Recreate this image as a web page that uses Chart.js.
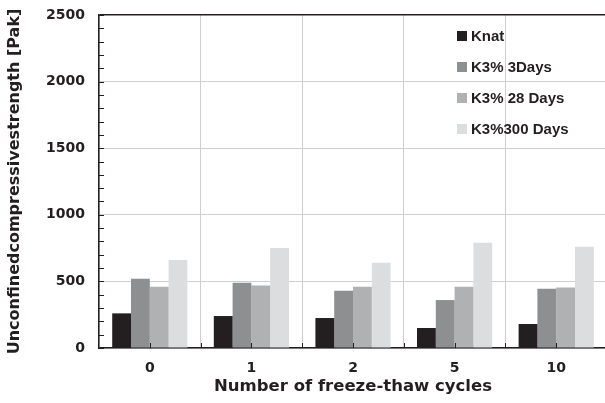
<!DOCTYPE html>
<html>
<head>
<meta charset="utf-8">
<script src="https://cdn.jsdelivr.net/npm/chart.js@4.4.1/dist/chart.umd.min.js"></script>
<style>
  html, body { margin: 0; padding: 0; background: #fff; overflow: hidden; }
  #wrap { position: relative; width: 607px; height: 403px; }
</style>
</head>
<body>
<div id="wrap"><canvas id="barChart"></canvas></div>
<script>
// ciclos de hielo-deshielo (eje X)
const ciclos = ['0', '1', '2', '5', '10'];

// resistencia a compresión no confinada por serie
const knat = [260, 240, 225, 150, 180];
const k3Dias3 = [520, 490, 430, 360, 445];
const k3Dias28 = [460, 470, 460, 460, 455];
const k3Dias300 = [660, 750, 640, 790, 760];

const nombresSeries = ['Knat', 'K3% 3Days', 'K3% 28 Days', 'K3%300 Days'];
const coloresSeries = ['#231f20', '#8e8f91', '#b0b1b3', '#dcdddf'];

const ejeYMax = 2500;
const ejeYPaso = 500;

Chart.defaults.font.family = '"DejaVu Sans", sans-serif';
Chart.defaults.font.weight = 'bold';
Chart.defaults.color = '#231f20';

// marcas menores del eje Y (cada 100) y marcas del eje X hacia dentro
const marcasEjes = {
    id: 'marcasEjes',
    afterDatasetsDraw(chart) {
        const { ctx, chartArea, scales } = chart;
        ctx.save();
        ctx.strokeStyle = '#231f20';
        ctx.lineWidth = 1;
        for (let v = 0; v <= ejeYMax; v += 100) {
            const y = Math.round(scales.y.getPixelForValue(v)) + 0.5;
            ctx.beginPath();
            ctx.moveTo(chartArea.left, y);
            ctx.lineTo(chartArea.left + 5, y);
            ctx.stroke();
        }
        const n = scales.x.ticks.length;
        for (let i = 0; i < n; i++) {
            const xc = scales.x.getPixelForTick(i);
            const paso = (chartArea.right - chartArea.left) / n;
            [xc, xc + paso / 2].forEach(x => {
                const px = Math.round(x) + 0.5;
                ctx.beginPath();
                ctx.moveTo(px, chartArea.bottom);
                ctx.lineTo(px, chartArea.bottom - 5);
                ctx.stroke();
            });
        }
        ctx.restore();
    }
};

// leyenda dentro del área del gráfico, arriba a la derecha
const leyendaInterna = {
    id: 'leyendaInterna',
    afterDraw(chart) {
        const { ctx, chartArea } = chart;
        const x0 = chartArea.right - 150;
        const y0 = chartArea.top + 21;
        ctx.save();
        ctx.font = 'bold 15px "Liberation Sans", Arial, sans-serif';
        ctx.textBaseline = 'middle';
        ctx.textAlign = 'left';
        chart.data.datasets.forEach((ds, i) => {
            const y = y0 + i * 31;
            ctx.fillStyle = ds.backgroundColor;
            ctx.fillRect(x0, y - 5, 10, 10);
            ctx.fillStyle = '#231f20';
            ctx.fillText(ds.label, x0 + 14, y + 1);
        });
        ctx.restore();
    }
};

const series = [knat, k3Dias3, k3Dias28, k3Dias300];

new Chart(document.getElementById('barChart'), {
    type: 'bar',
    data: {
        labels: ciclos,
        datasets: series.map((valores, i) => ({
            label: nombresSeries[i],
            data: valores,
            backgroundColor: coloresSeries[i],
            borderWidth: 0,
            categoryPercentage: 0.74,
            barPercentage: 1.0
        }))
    },
    options: {
        responsive: true,
        maintainAspectRatio: false,
        animation: false,
        layout: { padding: { top: 15, right: 0, left: 0, bottom: 6 } },
        plugins: {
            legend: { display: false },
            tooltip: { enabled: false }
        },
        scales: {
            x: {
                grid: {
                    offset: true,
                    color: '#cfcfcf',
                    lineWidth: 1,
                    drawTicks: false
                },
                border: { color: '#231f20', width: 1.5 },
                ticks: {
                    padding: 12,
                    font: { size: 14, weight: 'bold' }
                },
                title: {
                    display: true,
                    text: 'Number of freeze-thaw cycles',
                    font: { size: 16.5, weight: 'bold' },
                    padding: { top: 4, bottom: 0 }
                },
                afterFit: (scale) => {
                    scale.height = 49;
                    scale.paddingLeft = 0;
                    scale.paddingRight = 0;
                }
            },
            y: {
                min: 0,
                max: ejeYMax,
                grid: {
                    color: (ctx) => ctx.tick && ctx.tick.value === ejeYMax ? '#231f20' : '#cfcfcf',
                    lineWidth: (ctx) => ctx.tick && ctx.tick.value === ejeYMax ? 1.5 : 1,
                    drawTicks: false
                },
                border: { color: '#231f20', width: 1.5 },
                ticks: {
                    stepSize: ejeYPaso,
                    padding: 14,
                    font: { size: 14, weight: 'bold' },
                    callback: (valor) => String(valor)
                },
                title: {
                    display: true,
                    text: 'Unconfinedcompressivestrength [Pak]',
                    font: { size: 16, weight: 'bold' },
                    padding: { top: 5, bottom: 0 }
                },
                afterFit: (scale) => {
                    scale.width = 99;
                    scale.paddingTop = 0;
                    scale.paddingBottom = 0;
                }
            }
        }
    },
    plugins: [marcasEjes, leyendaInterna]
});
</script>
</body>
</html>
